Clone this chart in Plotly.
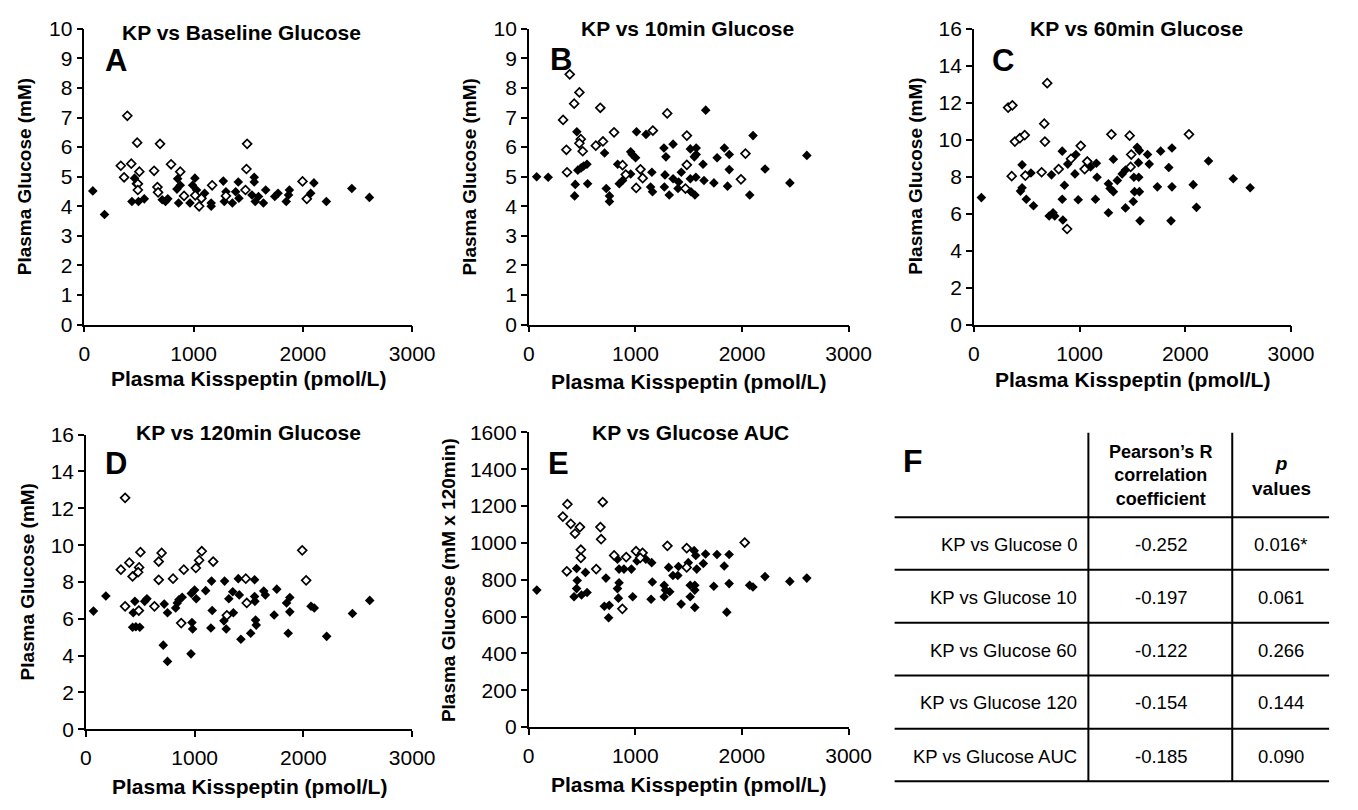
import plotly.graph_objects as go

W, H = 1358, 810

# ---------------- DATA ----------------
A_open_x = [394, 484, 693, 1490, 334, 430, 364, 504, 490, 490, 639, 669, 675, 794, 878, 913, 1015, 1051, 1072, 1170, 1296, 1475, 1484, 1997, 2036]
A_open_y = [7.06, 6.15, 6.11, 6.11, 5.37, 5.44, 4.98, 5.17, 4.76, 4.55, 5.20, 4.65, 4.47, 5.42, 5.17, 4.35, 4.37, 4.00, 4.27, 4.71, 4.35, 4.55, 5.26, 4.84, 4.25]
A_fill_x = [78, 185, 436, 496, 549, 460, 475, 713, 743, 764, 854, 848, 878, 863, 967, 1012, 991, 1027, 1101, 1161, 1161, 1272, 1296, 1281, 1355, 1409, 1415, 1385, 1555, 1555, 1534, 1564, 1594, 1660, 1639, 1743, 1773, 1848, 1877, 1869, 2072, 2101, 2215, 2448, 2609]
A_fill_y = [4.52, 3.72, 4.16, 4.16, 4.25, 4.95, 4.76, 4.22, 4.16, 4.25, 4.93, 4.58, 4.71, 4.11, 4.11, 4.95, 4.71, 4.55, 4.44, 4.11, 4.00, 4.85, 4.49, 4.16, 4.11, 4.82, 4.27, 4.49, 4.98, 4.82, 4.38, 4.16, 4.33, 4.55, 4.11, 4.33, 4.44, 4.16, 4.55, 4.38, 4.44, 4.79, 4.16, 4.60, 4.30]

B_open_x = [383, 474, 425, 670, 321, 1298, 799, 1163, 1482, 352, 487, 474, 505, 628, 695, 358, 879, 909, 1047, 1068, 1007, 1482, 1469, 2032, 1990]
B_open_y = [8.46, 7.85, 7.47, 7.33, 6.92, 7.14, 6.50, 6.56, 6.39, 5.91, 6.27, 6.13, 5.86, 6.05, 6.19, 5.15, 5.39, 5.07, 5.25, 4.95, 4.62, 5.40, 4.60, 5.78, 4.91]
B_fill_x = [73, 181, 450, 459, 490, 514, 545, 435, 429, 551, 710, 726, 756, 756, 833, 848, 879, 955, 970, 1001, 1010, 1099, 955, 1154, 1142, 1160, 1267, 1286, 1353, 1277, 1271, 1317, 1353, 1405, 1399, 1430, 1515, 1570, 1552, 1570, 1567, 1515, 1521, 1558, 1659, 1634, 1643, 1736, 1766, 1834, 1880, 1880, 1864, 2072, 2103, 2216, 2449, 2608]
B_fill_y = [5.00, 4.98, 6.52, 5.22, 5.30, 5.36, 5.42, 4.74, 4.35, 4.76, 5.80, 4.60, 4.35, 4.16, 5.42, 4.76, 4.87, 5.84, 5.75, 5.64, 6.52, 6.43, 5.09, 5.15, 4.65, 4.49, 5.97, 5.67, 6.10, 5.06, 4.65, 4.38, 4.93, 4.82, 4.60, 5.15, 5.94, 5.97, 5.67, 5.75, 4.98, 4.93, 4.49, 4.38, 7.25, 5.42, 4.87, 4.79, 5.64, 5.97, 5.75, 5.24, 4.68, 4.38, 6.39, 5.26, 4.79, 5.72]

C_open_x = [694, 324, 364, 666, 388, 435, 481, 672, 1301, 1474, 2035, 1011, 919, 1073, 1048, 802, 641, 487, 358, 1489, 1483, 882]
C_open_y = [13.06, 11.74, 11.86, 10.87, 9.90, 10.08, 10.25, 9.90, 10.29, 10.22, 10.29, 9.67, 8.97, 8.82, 8.41, 8.41, 8.24, 8.06, 8.03, 9.20, 8.53, 5.17]
C_fill_x = [71, 456, 441, 456, 496, 564, 540, 734, 712, 749, 765, 836, 888, 965, 956, 857, 836, 987, 842, 1073, 1104, 1159, 1165, 1150, 1273, 1320, 1289, 1320, 1273, 1357, 1403, 1434, 1434, 1508, 1514, 1520, 1545, 1566, 1557, 1560, 1566, 1572, 1643, 1659, 1736, 1767, 1844, 1874, 1874, 1865, 2075, 2106, 2220, 2454, 2614]
C_fill_y = [6.87, 8.64, 7.22, 7.40, 6.78, 6.43, 8.20, 8.10, 5.87, 6.05, 5.87, 9.38, 8.68, 9.20, 8.15, 7.54, 6.78, 6.75, 5.66, 8.85, 8.53, 8.73, 7.97, 6.78, 7.62, 8.94, 7.36, 7.19, 6.05, 7.80, 8.15, 8.36, 6.31, 6.66, 7.97, 7.19, 9.59, 9.41, 8.76, 7.97, 7.19, 5.61, 9.20, 8.68, 7.45, 9.38, 8.50, 9.55, 7.45, 5.61, 7.57, 6.34, 8.85, 7.89, 7.40]

D_open_x = [360, 501, 696, 1065, 1989, 399, 321, 429, 489, 480, 669, 1041, 1170, 1011, 900, 669, 801, 1470, 2025, 360, 486, 630, 1479, 876, 1296]
D_open_y = [12.57, 9.62, 9.58, 9.67, 9.72, 9.05, 8.67, 8.30, 8.79, 8.53, 9.11, 9.18, 9.11, 8.76, 8.67, 8.12, 8.18, 8.18, 8.09, 6.68, 6.45, 6.68, 6.86, 5.77, 6.19]
D_fill_x = [69, 183, 450, 435, 429, 459, 495, 540, 561, 720, 750, 711, 750, 825, 840, 855, 885, 969, 999, 1014, 975, 981, 966, 1101, 1155, 1161, 1149, 1275, 1314, 1350, 1356, 1269, 1290, 1401, 1410, 1425, 1515, 1551, 1554, 1551, 1560, 1566, 1635, 1650, 1755, 1731, 1845, 1875, 1875, 1860, 2070, 2100, 2214, 2451, 2610]
D_fill_y = [6.42, 7.24, 6.95, 6.33, 5.54, 5.57, 5.54, 6.95, 7.09, 6.80, 6.33, 4.57, 3.69, 6.59, 6.86, 7.03, 7.17, 7.38, 7.56, 7.09, 5.80, 5.45, 4.10, 7.53, 8.05, 6.45, 5.50, 8.05, 7.09, 7.47, 6.33, 5.89, 5.45, 8.18, 7.30, 4.89, 5.22, 8.12, 6.95, 7.21, 5.93, 5.66, 7.51, 7.30, 7.61, 6.21, 6.86, 7.16, 6.38, 5.22, 6.68, 6.59, 5.05, 6.29, 7.00]

E_open_x = [364, 695, 321, 395, 481, 435, 673, 680, 490, 490, 358, 634, 802, 915, 1007, 1068, 1301, 1482, 2026, 1482, 879, 1047]
E_open_y = [1210, 1222, 1143, 1104, 1086, 1051, 1086, 1020, 963, 919, 846, 858, 932, 923, 955, 946, 984, 972, 1002, 867, 642, 919]
E_fill_x = [77, 450, 456, 450, 426, 496, 548, 533, 725, 710, 756, 750, 833, 848, 833, 848, 842, 894, 964, 976, 1016, 1099, 1154, 1160, 1148, 1271, 1283, 1313, 1323, 1271, 1353, 1399, 1405, 1430, 1497, 1515, 1515, 1552, 1567, 1576, 1558, 1558, 1558, 1659, 1638, 1736, 1766, 1834, 1880, 1880, 1858, 2072, 2103, 2216, 2449, 2608]
E_fill_y = [744, 861, 796, 752, 708, 717, 731, 840, 809, 656, 661, 594, 911, 858, 752, 784, 700, 858, 858, 708, 902, 911, 893, 788, 694, 770, 744, 867, 735, 708, 823, 823, 872, 668, 893, 770, 708, 958, 932, 858, 770, 744, 650, 940, 888, 765, 937, 875, 937, 779, 624, 770, 761, 817, 791, 809]

panel_titles = ["KP vs Baseline Glucose", "KP vs 10min Glucose", "KP vs 60min Glucose",
                "KP vs 120min Glucose", "KP vs Glucose AUC"]
panel_letters = ["A", "B", "C", "D", "E"]
y_titles = ["Plasma Glucose (mM)"] * 4 + ["Plasma Glucose (mM x 120min)"]
x_title = "Plasma Kisspeptin (pmol/L)"
y_ranges = [(0, 10, 1), (0, 10, 1), (0, 16, 2), (0, 16, 2), (0, 1600, 200)]

table_rows = ["KP vs Glucose 0", "KP vs Glucose 10", "KP vs Glucose 60", "KP vs Glucose 120", "KP vs Glucose AUC"]
table_r = ["-0.252", "-0.197", "-0.122", "-0.154", "-0.185"]
table_p = ["0.016*", "0.061", "0.266", "0.144", "0.090"]

# ---------------- LAYOUT (pixel geometry as paper fractions) ----------------
FONT = "Arial, Liberation Sans, sans-serif"
def px(x): return x / W
def py(y): return 1 - y / H

TICK_SIZE = 21
TITLE_SIZE = 21
XTITLE_SIZE = 21
YTITLE_SIZE = 19
LETTER_SIZE = 31
TABLE_SIZE = 18.5

boxes = [(80, 415, 17.3, 321.7), (534.3, 861, 17.3, 321.7), (989, 1313, 17.3, 321.7),
         (81.7, 415, 435, 738.3), (534, 861, 432.7, 736)]
title_pos = [(241, 21), (696, 17), (1155, 17), (248, 433), (699, 433)]
letter_pos = [(112, 50), (567, 49), (1019, 50), (112, 465), (565, 465)]
ytitle_x = [19, 474, 930, 22, 452]
xtitle_y = [377, 380, 378, 797, 795]

data = [(A_open_x, A_open_y, A_fill_x, A_fill_y), (B_open_x, B_open_y, B_fill_x, B_fill_y),
        (C_open_x, C_open_y, C_fill_x, C_fill_y), (D_open_x, D_open_y, D_fill_x, D_fill_y),
        (E_open_x, E_open_y, E_fill_x, E_fill_y)]

fig = go.Figure()
annotations = []
layout = {}
for i, (ox, oy, fx, fy) in enumerate(data):
    n = "" if i == 0 else str(i + 1)
    fig.add_trace(go.Scatter(x=fx, y=fy, mode="markers", xaxis="x" + n, yaxis="y" + n,
                             marker=dict(symbol="diamond", size=7.4, color="black",
                                         line=dict(width=0)), showlegend=False))
    fig.add_trace(go.Scatter(x=ox, y=oy, mode="markers", xaxis="x" + n, yaxis="y" + n,
                             marker=dict(symbol="diamond", size=6.8, color="white",
                                         line=dict(width=1.7, color="black")), showlegend=False))
    x0, x1, yt, yb = boxes[i]
    y0r, y1r, dt = y_ranges[i]
    layout["xaxis" + n] = dict(domain=[px(x0), px(x1)], anchor="y" + n, range=[0, 3000],
                               tickvals=[0, 1000, 2000, 3000], showline=True, linecolor="black",
                               linewidth=1.5, ticks="outside", ticklen=6, tickwidth=1.5,
                               tickcolor="black", showgrid=False, zeroline=False,
                               tickfont=dict(family=FONT, size=TICK_SIZE, color="black"),
                               ticklabelstandoff=3)
    layout["yaxis" + n] = dict(domain=[py(yb), py(yt)], anchor="x" + n, range=[y0r, y1r],
                               tick0=0, dtick=dt, showline=True, linecolor="black",
                               linewidth=1.5, ticks="outside", ticklen=6, tickwidth=1.5,
                               tickcolor="black", showgrid=False, zeroline=False,
                               tickfont=dict(family=FONT, size=TICK_SIZE, color="black"))
    tx, ty = title_pos[i]
    annotations.append(dict(text="<b>" + panel_titles[i] + "</b>", x=px(tx), y=py(ty),
                            xref="paper", yref="paper", showarrow=False, xanchor="center",
                            yanchor="middle", font=dict(family=FONT, size=TITLE_SIZE, color="black")))
    lx, ly = letter_pos[i]
    annotations.append(dict(text="<b>" + panel_letters[i] + "</b>", x=px(lx), y=py(ly),
                            xref="paper", yref="paper", showarrow=False, xanchor="center",
                            yanchor="middle", font=dict(family=FONT, size=LETTER_SIZE, color="black")))
    annotations.append(dict(text="<b>" + y_titles[i] + "</b>", x=px(ytitle_x[i]),
                            y=py((yt + yb) / 2), xref="paper", yref="paper", showarrow=False,
                            textangle=-90, xanchor="center", yanchor="middle",
                            font=dict(family=FONT, size=YTITLE_SIZE, color="black")))
    annotations.append(dict(text="<b>" + x_title + "</b>", x=px((x0 + x1) / 2),
                            y=py(xtitle_y[i]), xref="paper", yref="paper", showarrow=False,
                            xanchor="center", yanchor="middle",
                            font=dict(family=FONT, size=XTITLE_SIZE, color="black")))

# ---------------- TABLE F ----------------
shapes = []
hlines = [520, 574, 628.7, 683, 737.7, 791.7]
for yy in hlines:
    shapes.append(dict(type="line", xref="paper", yref="paper", x0=px(908), x1=px(1352),
                       y0=py(yy), y1=py(yy), line=dict(color="black", width=2)))
for xx in [1106, 1253]:
    shapes.append(dict(type="line", xref="paper", yref="paper", x0=px(xx), x1=px(xx),
                       y0=py(433), y1=py(792), line=dict(color="black", width=2)))

annotations.append(dict(text="<b>F</b>", x=px(927), y=py(462), xref="paper", yref="paper",
                        showarrow=False, xanchor="center", yanchor="middle",
                        font=dict(family=FONT, size=32, color="black")))
annotations.append(dict(text="<b>Pearson’s R<br>correlation<br>coefficient</b>", x=px(1180),
                        y=py(477), xref="paper", yref="paper", showarrow=False,
                        xanchor="center", yanchor="middle", align="center",
                        font=dict(family=FONT, size=18, color="black")))
annotations.append(dict(text="<b><i>p</i><br>values</b>", x=px(1303), y=py(478),
                        xref="paper", yref="paper", showarrow=False, xanchor="center",
                        yanchor="middle", align="center",
                        font=dict(family=FONT, size=19, color="black")))
row_y = [548, 603, 657, 711, 766]
for i in range(5):
    annotations.append(dict(text=table_rows[i], x=px(1096), y=py(row_y[i]), xref="paper",
                            yref="paper", showarrow=False, xanchor="right", yanchor="middle",
                            font=dict(family=FONT, size=TABLE_SIZE, color="black")))
    annotations.append(dict(text=table_r[i], x=px(1180), y=py(row_y[i]), xref="paper",
                            yref="paper", showarrow=False, xanchor="center", yanchor="middle",
                            font=dict(family=FONT, size=TABLE_SIZE, color="black")))
    annotations.append(dict(text=table_p[i], x=px(1303), y=py(row_y[i]), xref="paper",
                            yref="paper", showarrow=False, xanchor="center", yanchor="middle",
                            font=dict(family=FONT, size=TABLE_SIZE, color="black")))

fig.update_layout(width=W, height=H, margin=dict(l=0, r=0, t=0, b=0, pad=0),
                  paper_bgcolor="white", plot_bgcolor="white", showlegend=False,
                  annotations=annotations, shapes=shapes, **layout)

fig.write_html("out.html", config={"displayModeBar": False},
               post_script="document.body.style.margin='0';document.body.style.overflow='hidden';"
                           "document.documentElement.style.overflow='hidden';")
